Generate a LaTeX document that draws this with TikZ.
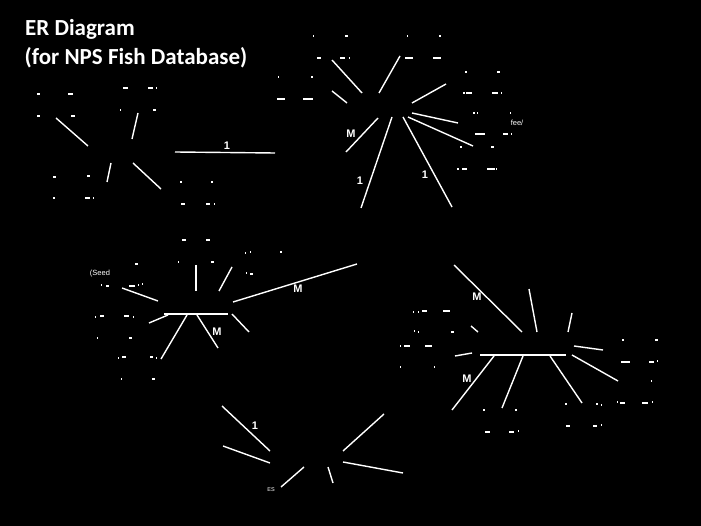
\documentclass[tikz,border=0pt]{standalone}
\usepackage{fontspec}
\setmainfont{Liberation Sans}
\newfontfamily\titlefont{Carlito}
\newcommand\seg[3]{\coordinate (#1a) at (#2); \coordinate (#1b) at (#3); \draw[conn] (#1a) -- (#1b);}
\tikzset{
  conn/.style={draw=white, line width=1.4pt},
  tick/.style={draw=white, line width=1.1pt},
  lab/.style={text=white, font=\bfseries\fontsize{11}{12}\selectfont, inner sep=0pt},
  frag/.style={text=white, font=\fontsize{7.5}{8}\selectfont, inner sep=0pt},
  ttl/.style={text=white, font=\titlefont\bfseries\fontsize{23}{26}\selectfont, inner sep=0pt, anchor=base west}
}
\begin{document}
\begin{tikzpicture}[x=1pt,y=-1pt]
\fill[black] (0,0) rectangle (701,526);
\useasboundingbox (0,0) rectangle (701,526);
% title
\node[ttl] (t1) at (25,35.5) {ER Diagram};
\node[ttl] (t2) at (24.5,64.5) {(for NPS Fish Database)};
% top-left entity
\seg{a1}{56,118}{88,146}
\seg{a2}{138,113}{132,139}
\seg{a3}{111,163}{107,182}
\seg{a4}{133,163}{161,189}
\seg{r1}{175,152}{275,153}
\node[lab] (l1) at (227,146) {1};
% top-middle entity
\seg{b1}{332,60}{362,93}
\seg{b2}{332,91}{347,103}
\seg{b3}{400,56}{379,93}
\seg{b4}{446,84}{412,103}
\seg{b5}{412,113}{458,123}
\seg{b6}{408,117}{473,146}
\seg{r2}{378,118}{346,152}
\node[lab] (l2) at (351,134) {M};
\seg{r3}{392,117}{361,208}
\node[lab] (l3) at (360,181) {1};
\seg{r4}{403,117}{452,207}
\node[lab] (l4) at (425,175) {1};
% bottom-left entity
\seg{c1}{196,265}{196,291}
\seg{c2}{232,267}{219,291}
\seg{c3}{122,288}{158,301}
\seg{r5}{233,302}{357,264}
\node[lab] (l5) at (298,289) {M};
\seg{c4}{164,314}{228,314}
\seg{c5}{168,315}{149,323}
\seg{c6}{187,315}{161,359}
\seg{r6}{197,315}{218,348}
\node[lab] (l6) at (217,332) {M};
\seg{c7}{232,314}{249,332}
% right entity
\seg{r7}{454,265}{522,332}
\node[lab] (l7) at (477,297) {M};
\seg{d1}{529,289}{537,332}
\seg{d2}{572,313}{568,332}
\seg{d3}{471,326}{478,332}
\seg{d4}{455,356}{472,353}
\seg{d5}{480,355}{566,355}
\seg{d6}{574,346}{603,350}
\seg{d7}{572,355}{618,381}
\seg{r8}{494,356}{452,410}
\node[lab] (l8) at (467,379) {M};
\seg{d8}{523,356}{502,408}
\seg{d9}{550,356}{582,403}
% bottom entity
\seg{r9}{222,406}{270,451}
\node[lab] (l9) at (255,426) {1};
\seg{e1}{223,446}{270,463}
\seg{e2}{304,467}{281,487}
\seg{e3}{328,467}{333,483}
\seg{e4}{384,414}{343,451}
\seg{e5}{343,462}{403,473}
% fragments
\node[frag] (f1) at (517,123) {fee/};
\node[frag] (f2) at (100,274) {(Seed};
\node[frag, font=\fontsize{5.5}{6}\selectfont] (f3) at (271,490) {ES};
% small marks
\foreach \a/\b/\y in {
 37/40/94, 68/73/94, 37/40/116, 71/75/116, 123/128/88, 148/153/88, 156/157/88,
 120/121/110, 153/156/110, 53/56/177, 87/90/176, 53/55/198, 85/90/198, 93/94/198,
 180/182/182, 211/213/182, 181/185/204, 206/210/204, 214/215/204,
 313/314/36, 345/348/36, 407/408/36, 439/441/36, 317/321/58, 340/345/58, 349/350/58,
 405/413/58, 433/441/58, 278/279/77, 311/313/77, 277/285/99, 303/313/99,
 465/467/72, 497/500/72, 463/465/93, 466/472/93, 492/498/93, 501/502/93,
 473/475/113, 477/478/113, 510/511/113, 475/485/134, 503/508/134, 511/512/134,
 460/462/147, 491/494/147, 457/459/169, 462/467/169, 487/495/169, 496/497/169,
 182/186/240, 206/210/240, 245/246/253, 250/251/252, 280/282/252,
 135/138/264, 178/179/262, 211/214/262, 246/247/273, 250/253/274,
 101/102/285, 106/109/286, 129/135/286, 138/139/285, 142/143/284,
 95/96/317, 100/104/316, 124/129/316, 133/134/317, 97/98/338, 129/132/338,
 118/119/358, 122/126/357, 150/153/357, 156/157/358, 121/122/379, 152/155/379,
 413/414/312, 418/419/312, 422/427/311, 443/450/311, 414/415/331, 418/419/332, 451/454/332,
 400/401/346, 404/410/346, 425/432/346, 400/401/367, 434/435/367,
 622/624/340, 655/658/340, 621/630/362, 649/654/362, 657/658/361, 651/652/381,
 617/618/402, 620/625/403, 642/648/403, 652/653/402,
 483/485/410, 515/517/410, 485/490/432, 509/514/432, 518/519/431,
 565/567/404, 596/598/404, 601/602/405, 566/570/426, 593/597/426, 601/602/425}
 \draw[tick] (\a,\y) -- (\b,\y);
\end{tikzpicture}
\end{document}
